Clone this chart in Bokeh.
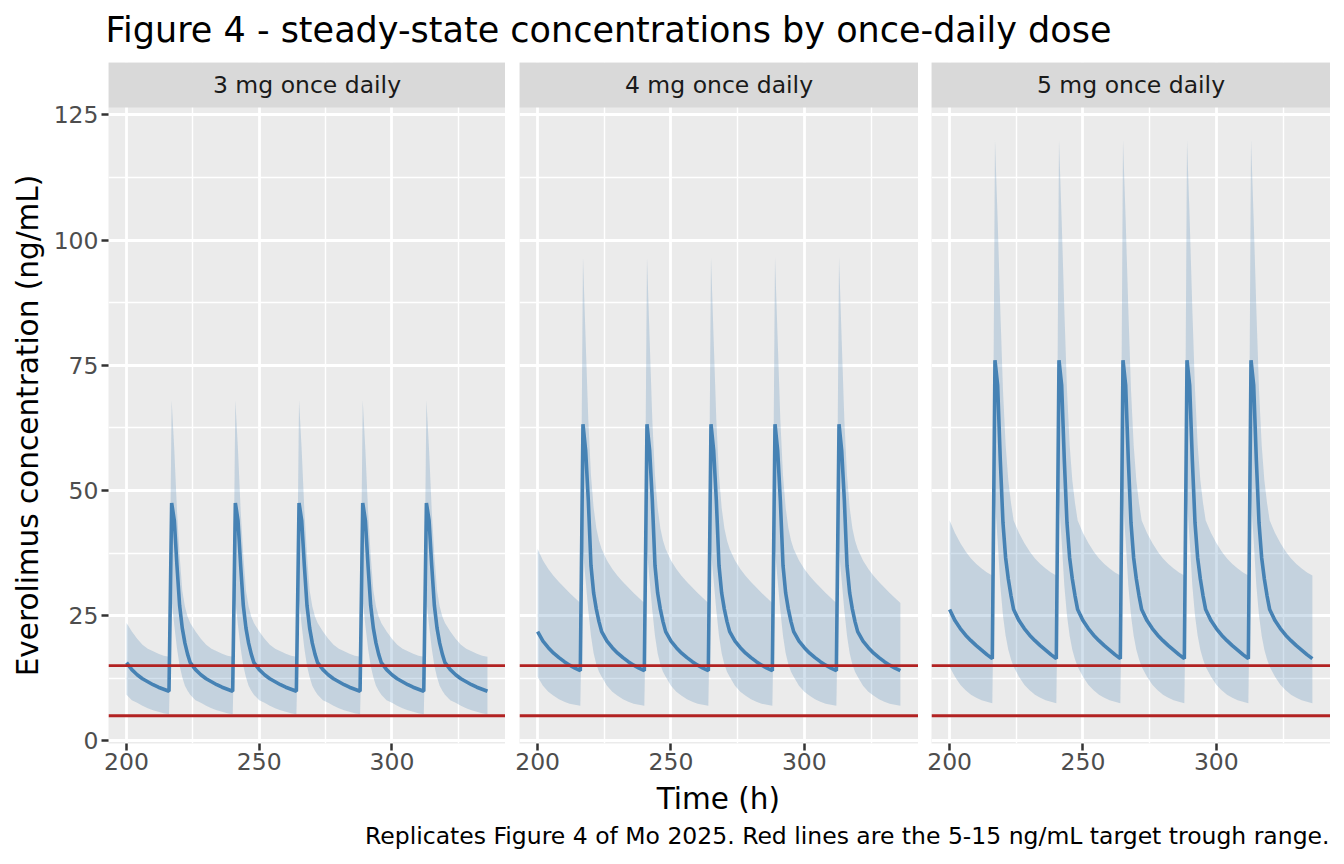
import math
from bokeh.plotting import figure
from bokeh.models import Range1d, FixedTicker, Span, LinearAxis, Grid, BoxAnnotation, Label
from bokeh.layouts import column, row
from bokeh.embed import file_html
from bokeh.resources import INLINE
from bokeh.core.properties import value

# ---------------- data ----------------
title_text = "Figure 4 - steady-state concentrations by once-daily dose"
panel_labels = ["3 mg once daily", "4 mg once daily", "5 mg once daily"]
x_label = "Time (h)"
y_label = "Everolimus concentration (ng/mL)"
caption_text = "Replicates Figure 4 of Mo 2025. Red lines are the 5-15 ng/mL target trough range."

dose_times = [192, 216, 240, 264, 288, 312]   # once daily dosing
time_window = [200, 336]
cycle_hours = [0, 1, 2, 3, 4, 5, 6, 7, 8, 10, 12, 14, 16, 18, 20, 22, 24]

# steady-state profile within one dosing interval (median, 5th, 95th percentile)
median_3mg = [9.9, 47.5, 44.0, 35.0, 27.0, 22.5, 19.5, 17.3, 15.6, 14.2, 13.2, 12.4, 11.8, 11.2, 10.7, 10.3, 9.9]
lower_3mg = [5.3, 28.0, 23.0, 18.5, 15.0, 12.7, 11.0, 10.0, 9.2, 8.1, 7.6, 7.0, 6.5, 6.1, 5.8, 5.5, 5.3]
upper_3mg = [16.8, 68.0, 58.0, 46.0, 37.0, 30.0, 26.8, 24.8, 23.5, 21.8, 20.4, 19.2, 18.4, 17.9, 17.4, 17.0, 16.8]

median_4mg = [14.0, 63.2, 58.0, 48.0, 35.0, 29.5, 26.3, 23.8, 21.8, 19.9, 18.6, 17.5, 16.6, 15.8, 15.1, 14.5, 14.0]
lower_4mg = [7.0, 38.0, 32.0, 26.0, 21.0, 17.5, 15.3, 13.8, 12.8, 11.0, 9.8, 9.0, 8.3, 7.8, 7.4, 7.2, 7.0]
upper_4mg = [27.5, 96.6, 80.0, 64.0, 53.0, 46.5, 42.5, 40.0, 38.3, 36.0, 34.3, 32.9, 31.7, 30.6, 29.5, 28.5, 27.5]

median_5mg = [16.4, 76.0, 71.0, 56.0, 43.5, 36.5, 32.3, 29.0, 26.2, 24.0, 22.4, 21.1, 20.0, 19.0, 18.1, 17.2, 16.4]
lower_5mg = [7.5, 48.0, 40.0, 31.0, 25.0, 21.0, 18.2, 16.3, 14.8, 12.8, 11.2, 10.1, 9.2, 8.6, 8.1, 7.8, 7.5]
upper_5mg = [33.0, 120.0, 104.0, 86.0, 70.0, 59.0, 52.0, 47.5, 44.0, 41.5, 39.5, 37.8, 36.4, 35.3, 34.4, 33.6, 33.0]

target_range = [5, 15]
x_ticks = [200, 250, 300]
x_minor_ticks = [225, 275, 325]
y_ticks = [0, 25, 50, 75, 100, 125]
y_minor_ticks = [12.5, 37.5, 62.5, 87.5, 112.5]

panels = [
    (median_3mg, lower_3mg, upper_3mg),
    (median_4mg, lower_4mg, upper_4mg),
    (median_5mg, lower_5mg, upper_5mg),
]


def over_time(profile):
    """Place the per-interval profile at each dose within the window."""
    t, v = [], []
    for i, d in enumerate(dose_times):
        for h, c in zip(cycle_hours, profile):
            if h == cycle_hours[-1] and i < len(dose_times) - 1:
                continue
            tt = d + h
            if time_window[0] <= tt <= time_window[1]:
                t.append(tt)
                v.append(c)
    return t, v


# ---------------- style / layout ----------------
FONT = "DejaVu Sans"
PANEL_BG = "#EBEBEB"
STRIP_BG = "#D9D9D9"
LINE_C = "#4682B4"
RED = "#B22222"

TOTAL_W = 1336
HDR_H = 62
FRAME_W = 399
FRAME_H = 636
STRIP_H = 45
BOTTOM = 38
YLAB_W = 50
left_borders = [106 - YLAB_W, 14, 13]
PLOT_H = STRIP_H + FRAME_H + BOTTOM
FTR_H = 864 - HDR_H - PLOT_H

x_start, x_end = 193.2, 342.8
y_start, y_end = -0.54, 126.46
px_per_unit = FRAME_H / (y_end - y_start)
y_top = y_end + STRIP_H / px_per_unit


def blank(w, h, bottom=0):
    f = figure(width=w, height=h, x_range=Range1d(0, w), y_range=Range1d(h - bottom, 0),
               x_axis_type=None, y_axis_type=None, toolbar_location=None, output_backend="svg",
               min_border=0, min_border_bottom=bottom, outline_line_color=None)
    f.grid.visible = False
    return f


# ---------------- header ----------------
hdr = blank(TOTAL_W, HDR_H)
hdr.text(x=[105], y=[29.5], text=[title_text], text_font=value(FONT), text_font_size=value("35px"),
         text_color="black", text_align="left", text_baseline="middle")

# ---------------- y-axis title ----------------
ylab = blank(YLAB_W, PLOT_H, bottom=BOTTOM)
ylab.text(x=[27.8], y=[STRIP_H + FRAME_H / 2], text=[y_label], angle=[math.pi / 2],
          text_font=value(FONT), text_font_size=value("29.5px"), text_color="black",
          text_align="center", text_baseline="middle")

# ---------------- panels ----------------
figs = [ylab]
for k, (med, lo, hi) in enumerate(panels):
    p = figure(width=left_borders[k] + FRAME_W, height=PLOT_H,
               x_range=Range1d(x_start, x_end), y_range=Range1d(y_start, y_top),
               x_axis_type=None, y_axis_type=None, toolbar_location=None, output_backend="svg",
               min_border_left=left_borders[k], min_border_right=0, min_border_top=0,
               min_border_bottom=BOTTOM, background_fill_color=PANEL_BG,
               border_fill_color="white", outline_line_color=None)

    xg = Grid(dimension=0, ticker=FixedTicker(ticks=x_ticks, minor_ticks=x_minor_ticks),
              grid_line_color="white", grid_line_width=2.8,
              minor_grid_line_color="white", minor_grid_line_width=1.4)
    yg = Grid(dimension=1, ticker=FixedTicker(ticks=y_ticks, minor_ticks=y_minor_ticks),
              grid_line_color="white", grid_line_width=2.8,
              minor_grid_line_color="white", minor_grid_line_width=1.4)
    p.add_layout(xg)
    p.add_layout(yg)

    t, vlo = over_time(lo)
    _, vhi = over_time(hi)
    _, vmed = over_time(med)
    p.varea(x=t, y1=vlo, y2=vhi, fill_color=LINE_C, fill_alpha=0.24)
    p.line(x=t, y=vmed, line_color=LINE_C, line_width=3.6)

    for loc in target_range:
        p.add_layout(Span(location=loc, dimension="width", line_color=RED, line_width=2.8))

    # facet strip
    p.add_layout(BoxAnnotation(bottom=y_end, fill_color=STRIP_BG, fill_alpha=1.0, line_color=None))
    p.add_layout(Label(x=(x_start + x_end) / 2, y=(y_end + y_top) / 2, text=panel_labels[k],
                       text_font=FONT, text_font_size="23.5px", text_color="#1A1A1A",
                       text_align="center", text_baseline="middle"))

    xa = LinearAxis(ticker=FixedTicker(ticks=x_ticks), axis_line_color=None,
                    major_tick_out=7, major_tick_in=0, minor_tick_out=0, minor_tick_in=0,
                    major_tick_line_color="#333333", major_tick_line_width=2.5,
                    major_label_text_font=FONT, major_label_text_font_size="23.5px",
                    major_label_text_color="#4D4D4D", major_label_standoff=2)
    p.add_layout(xa, "below")

    if k == 0:
        ya = LinearAxis(ticker=FixedTicker(ticks=y_ticks), axis_line_color=None,
                        major_tick_out=7, major_tick_in=0, minor_tick_out=0, minor_tick_in=0,
                        major_tick_line_color="#333333", major_tick_line_width=2.5,
                        major_label_text_font=FONT, major_label_text_font_size="23.5px",
                        major_label_text_color="#4D4D4D", major_label_standoff=3)
        p.add_layout(ya, "left")
    figs.append(p)

# ---------------- footer ----------------
ftr_top = HDR_H + PLOT_H
ftr = blank(TOTAL_W, FTR_H)
ftr.text(x=[717.9], y=[798.7 - ftr_top], text=[x_label], text_font=value(FONT),
         text_font_size=value("29.5px"), text_color="black", text_align="center",
         text_baseline="middle")
ftr.text(x=[1329], y=[835.8 - ftr_top], text=[caption_text], text_font=value(FONT),
         text_font_size=value("23.5px"), text_color="black", text_align="right",
         text_baseline="middle")

layout = column(hdr, row(*figs), ftr)
open("out.html", "w").write(file_html(layout, INLINE))
